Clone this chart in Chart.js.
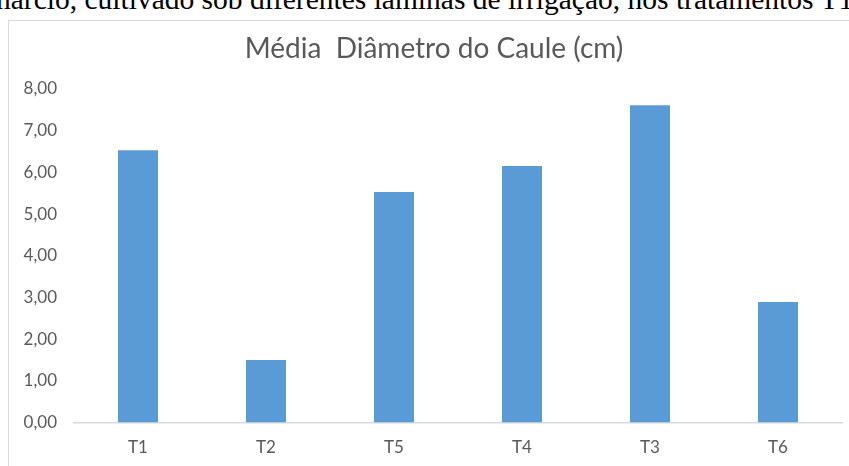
<!DOCTYPE html>
<html>
<head>
<meta charset="utf-8">
<script src="https://cdn.jsdelivr.net/npm/chart.js@4/dist/chart.umd.min.js"></script>
<style>
  html, body { margin: 0; padding: 0; background: #fff; overflow: hidden; }
  body { width: 849px; height: 466px; position: relative; }
  #doctext {
    position: absolute; left: -4px; top: -17px; white-space: nowrap; line-height: 1.15;
    font-family: "Liberation Serif", "Times New Roman", serif; font-size: 29.5px; color: #000;
  }
  #frame {
    position: absolute; left: 8px; top: 20px; width: 900px; height: 500px;
    border: 1px solid #d9d9d9; box-sizing: border-box; background: #fff;
  }
  #wrap { position: absolute; left: 0; top: 0; width: 849px; height: 466px; }
</style>
</head>
<body>
<div id="doctext">nárcio, cultivado sob diferentes lâminas de irrigação, nos tratamentos T1</div>
<div id="frame"></div>
<div id="wrap"><canvas id="c"></canvas></div>
<script>
const chartTitle = "Média  Diâmetro do Caule (cm)";
const categories = ["T1", "T2", "T5", "T4", "T3", "T6"];
const diametro = [6.53, 1.50, 5.53, 6.15, 7.61, 2.89];
const yMin = 0, yMax = 8, yStep = 1;

const textColor = "#595959";
const fontFamily = "Lato, 'Open Sans', sans-serif";

// Title drawn centred on the (wider) chart frame rather than the canvas
const frameTitle = {
  id: "frameTitle",
  afterDraw(chart) {
    const ctx = chart.ctx;
    ctx.save();
    ctx.font = "28px " + fontFamily;
    ctx.fillStyle = textColor;
    ctx.textAlign = "center";
    ctx.textBaseline = "middle";
    ctx.fillText(chartTitle, 434, 49);
    ctx.restore();
  }
};

new Chart(document.getElementById("c"), {
  type: "bar",
  data: {
    labels: categories,
    datasets: [{
      label: chartTitle,
      data: diametro,
      backgroundColor: "#5b9bd5",
      borderWidth: 0,
      barPercentage: 0.3125,
      categoryPercentage: 1.0
    }]
  },
  plugins: [frameTitle],
  options: {
    responsive: true,
    maintainAspectRatio: false,
    animation: false,
    layout: { padding: { left: 0, right: 7, top: 89, bottom: 0 } },
    plugins: {
      legend: { display: false },
      tooltip: { enabled: false },
      title: { display: false }
    },
    scales: {
      x: {
        grid: { display: false, drawTicks: false },
        border: { display: true, color: "#d9d9d9", width: 1.5 },
        ticks: { color: textColor, font: { family: fontFamily, size: 17 }, padding: 15 },
        afterFit: (s) => { s.height = 43.5; }
      },
      y: {
        min: yMin, max: yMax,
        grid: { display: false, drawTicks: false },
        border: { display: false },
        ticks: {
          stepSize: yStep,
          color: textColor,
          font: { family: fontFamily, size: 17 },
          padding: 17,
          callback: (v) => Number(v).toFixed(2).replace(".", ",")
        },
        afterFit: (s) => { s.width = 74; }
      }
    }
  }
});
</script>
</body>
</html>
